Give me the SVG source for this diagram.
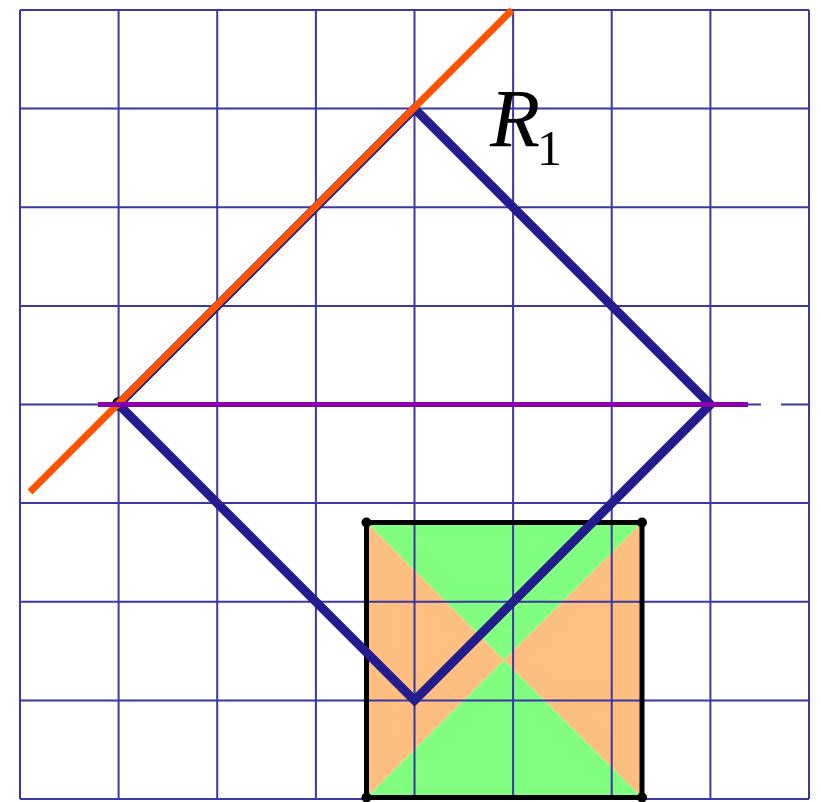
<svg xmlns="http://www.w3.org/2000/svg" width="821" height="802" viewBox="0 0 821 802">
<style>
.grid line{stroke:#3b37a3;stroke-width:2}
.dia{fill:none;stroke:#231b8e;stroke-width:9;stroke-linejoin:miter}
.lbl{font-family:"Liberation Serif","Times New Roman",serif;fill:#000}
</style>
<rect width="821" height="802" fill="#fff"/>
<g id="square-fill">
<polygon points="366.5,522.5 642,522.5 504,660" fill="#80ff80"/>
<polygon points="366.5,797.5 642,797.5 504,660" fill="#80ff80"/>
<polygon points="366.5,522.5 366.5,797.5 504,660" fill="#ffbf80"/>
<polygon points="642,522.5 642,797.5 504,660" fill="#ffbf80"/>
</g>
<g class="grid" id="grid">
<line x1="20" y1="10" x2="20" y2="799"/>
<line x1="118.6" y1="10" x2="118.6" y2="799"/>
<line x1="217.2" y1="10" x2="217.2" y2="799"/>
<line x1="315.9" y1="10" x2="315.9" y2="799"/>
<line x1="414.5" y1="10" x2="414.5" y2="799"/>
<line x1="513.1" y1="10" x2="513.1" y2="799"/>
<line x1="611.7" y1="10" x2="611.7" y2="799"/>
<line x1="710.4" y1="10" x2="710.4" y2="799"/>
<line x1="809" y1="10" x2="809" y2="799"/>
<line x1="20" y1="10" x2="809" y2="10"/>
<line x1="20" y1="108.6" x2="809" y2="108.6"/>
<line x1="20" y1="207.2" x2="809" y2="207.2"/>
<line x1="20" y1="305.9" x2="809" y2="305.9"/>
<line x1="20" y1="503.1" x2="809" y2="503.1"/>
<line x1="20" y1="601.7" x2="809" y2="601.7"/>
<line x1="20" y1="700.4" x2="809" y2="700.4"/>
<line x1="20" y1="799" x2="809" y2="799"/>
<line x1="20" y1="404.5" x2="748" y2="404.5"/>
</g>
<g id="square">
<rect x="366.5" y="522.5" width="275.5" height="275" fill="none" stroke="#000" stroke-width="5"/>
<circle cx="366.5" cy="522.5" r="5" fill="#000"/>
<circle cx="642" cy="522.5" r="5" fill="#000"/>
<circle cx="366.5" cy="797.5" r="5" fill="#000"/>
<circle cx="642" cy="797.5" r="5" fill="#000"/>
</g>
<g id="connectors">
<circle cx="119" cy="404" r="7" fill="#000"/>
<polygon class="dia" points="414.5,108.6 710.4,404.5 414.5,700.4 118.6,404.5"/>
<line x1="30" y1="492" x2="512" y2="10" stroke="#ff5500" stroke-width="7"/>
<line x1="98" y1="404.5" x2="748" y2="404.5" stroke="#8800aa" stroke-width="5"/>
<line x1="748" y1="404.5" x2="809" y2="404.5" stroke="#3b37a3" stroke-width="2" stroke-dasharray="13,20,28,0"/>
</g>
<g id="label">
<text class="lbl" x="490" y="146" font-size="82" font-style="italic" font-family="Liberation Serif, serif">R</text>
<text class="lbl" x="537" y="165" font-size="50" font-family="Liberation Serif, serif">1</text>
</g>
</svg>
